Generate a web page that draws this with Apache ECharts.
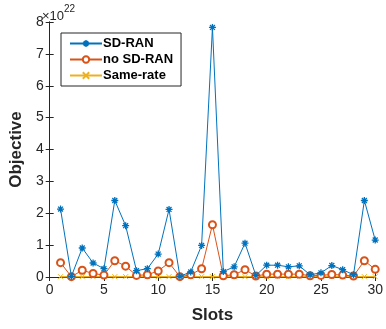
<!DOCTYPE html>
<html><head><meta charset="utf-8">
<script src="https://cdn.jsdelivr.net/npm/echarts@6/dist/echarts.min.js"></script>
<style>html,body{margin:0;padding:0;background:#fff}#c{width:386px;height:329px}</style>
</head><body><div id="c"></div>
<script>
const slots = [1,2,3,4,5,6,7,8,9,10,11,12,13,14,15,16,17,18,19,20,21,22,23,24,25,26,27,28,29,30];
const sdRan = [2.13,0.02,0.91,0.44,0.26,2.40,1.61,0.20,0.26,0.72,2.12,0.02,0.16,0.99,7.83,0.17,0.32,1.06,0.05,0.37,0.37,0.32,0.35,0.07,0.13,0.36,0.23,0.07,2.40,1.16];
const noSdRan = [0.45,0.01,0.21,0.11,0.06,0.51,0.34,0.05,0.07,0.19,0.45,0.01,0.07,0.26,1.64,0.04,0.07,0.23,0.03,0.09,0.09,0.09,0.09,0.04,0.05,0.08,0.06,0.03,0.51,0.24];
const sameRate = [0.01,0.01,0.01,0.01,0.01,0.01,0.01,0.01,0.01,0.01,0.01,0.01,0.01,0.01,0.01,0.01,0.01,0.01,0.01,0.01,0.01,0.01,0.01,0.01,0.01,0.01,0.01,0.01,0.01,0.01];
const seriesNames = ['SD-RAN','no SD-RAN','Same-rate'];
const xTicks = {min:0,max:30,interval:5};
const yTicks = {min:0,max:8,interval:1};

const FONT = 'Liberation Sans';
const pairs = arr => arr.map((v,i)=>[slots[i], v]);
const star = 'path://M5,0L5,10M0,5L10,5M1.5,1.5L8.5,8.5M8.5,1.5L1.5,8.5';
const cross = 'path://M0,0L10,10M10,0L0,10';
const axisCol = '#262626';
const chart = echarts.init(document.getElementById('c'));
chart.setOption({
  animation:false,
  grid:{left:42,right:3,top:22,bottom:45},
  xAxis:[{type:'value',min:xTicks.min,max:xTicks.max,interval:xTicks.interval,
    name:'Slots',nameLocation:'middle',nameGap:30,
    nameTextStyle:{fontFamily:FONT,fontWeight:'bold',fontSize:17,color:axisCol},
    axisLine:{lineStyle:{color:axisCol,width:1}},
    axisTick:{inside:true,length:4,lineStyle:{color:axisCol}},
    axisLabel:{fontFamily:FONT,fontSize:14,color:axisCol,margin:6},
    splitLine:{show:false}},
   {type:'value',position:'top',min:xTicks.min,max:xTicks.max,interval:xTicks.interval,
    axisLine:{lineStyle:{color:axisCol,width:1}},
    axisTick:{inside:true,length:4,lineStyle:{color:axisCol}},
    axisLabel:{show:false},splitLine:{show:false}}],
  yAxis:[{type:'value',min:yTicks.min,max:yTicks.max,interval:yTicks.interval,
    name:'Objective',nameLocation:'middle',nameGap:20,
    nameTextStyle:{fontFamily:FONT,fontWeight:'bold',fontSize:17,color:axisCol},
    axisLine:{show:true,lineStyle:{color:axisCol,width:1}},
    axisTick:{show:true,inside:true,length:4,lineStyle:{color:axisCol}},
    axisLabel:{fontFamily:FONT,fontSize:14,color:axisCol,margin:6},
    splitLine:{show:false}},
   {type:'value',position:'right',min:yTicks.min,max:yTicks.max,interval:yTicks.interval,
    axisLine:{show:true,lineStyle:{color:axisCol,width:1}},
    axisTick:{show:true,inside:true,length:4,lineStyle:{color:axisCol}},
    axisLabel:{show:false},splitLine:{show:false}}],
  legend:{orient:'vertical',left:61,top:33,padding:[4,8,4,8],itemGap:3,
    itemWidth:32,itemHeight:8,
    backgroundColor:'#fff',borderColor:axisCol,borderWidth:1,
    textStyle:{fontFamily:FONT,fontWeight:'bold',fontSize:13,color:'#000',padding:[0,0,0,-4]},
    data:seriesNames},
  graphic:[{type:'text',left:42,top:4,style:{
    text:'{a|×10}{b|22}',
    rich:{a:{fontFamily:FONT,fontSize:13,fill:axisCol,padding:[6,0,0,0]},
          b:{fontFamily:FONT,fontSize:10,fill:axisCol,verticalAlign:'top'}}}}],
  series:[
    {name:seriesNames[2],type:'line',z:1,data:pairs(sameRate),symbol:cross,symbolSize:5,
     lineStyle:{color:'#EDB120',width:1.5},
     itemStyle:{color:'#EDB120',borderColor:'#EDB120',borderWidth:1}},
    {name:seriesNames[1],type:'line',z:2,data:pairs(noSdRan),symbol:'emptyCircle',symbolSize:7,
     lineStyle:{color:'#D95319',width:1},
     itemStyle:{color:'#D95319',borderColor:'#D95319',borderWidth:0.8}},
    {name:seriesNames[0],type:'line',z:3,data:pairs(sdRan),symbol:star,symbolSize:7,
     lineStyle:{color:'#0072BD',width:1},
     itemStyle:{color:'#0072BD',borderColor:'#0072BD',borderWidth:1.3}}
  ]
});
</script></body></html>
